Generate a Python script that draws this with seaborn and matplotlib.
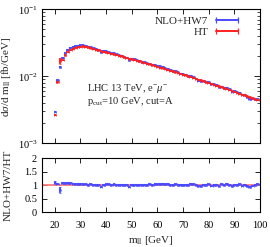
import numpy as np
import pandas as pd
import seaborn as sns
import matplotlib
matplotlib.use("Agg")
import matplotlib.pyplot as plt
from matplotlib.lines import Line2D
from matplotlib.ticker import LogLocator, NullFormatter, FixedLocator, FixedFormatter

# ---------------- data ----------------
mll = list(range(20, 100))  # bin centres [GeV]

ht = [0.00268, 0.0082, 0.0168, 0.0176, 0.0205, 0.0230, 0.0247, 0.0258, 0.0267, 0.0274,
      0.0278, 0.0280, 0.0276, 0.0270, 0.0263, 0.0256, 0.02503, 0.02447, 0.02391, 0.02336,
      0.02283, 0.02230, 0.02178, 0.02127, 0.02077, 0.02027, 0.01979, 0.01931, 0.01885, 0.01839,
      0.01794, 0.01749, 0.01706, 0.01664, 0.01622, 0.01581, 0.01541, 0.01502, 0.01463, 0.01425,
      0.01388, 0.01352, 0.01316, 0.01282, 0.01248, 0.01214, 0.01182, 0.01150, 0.01118, 0.01088,
      0.01058, 0.01029, 0.01000, 0.00972, 0.00945, 0.00918, 0.00892, 0.00867, 0.00842, 0.00818,
      0.00794, 0.00771, 0.00748, 0.00726, 0.00705, 0.00684, 0.00664, 0.00644, 0.00624, 0.00605,
      0.00587, 0.00569, 0.00551, 0.00534, 0.00518, 0.00502, 0.00486, 0.00471, 0.00456, 0.00441]

ratio = [1.10, 1.06, 0.82, 1.08, 1.07, 1.08, 1.07, 1.06, 1.05, 1.05,
         1.04, 1.03, 1.03, 1.02, 1.03, 1.02, 1.02, 1.01, 0.95, 1.02,
         1.03, 1.03, 1.02, 1.03, 1.02, 1.01, 1.02, 1.01, 1.00, 0.95,
         1.01, 1.02, 1.02, 1.01, 1.00, 1.02, 1.01, 1.03, 1.02, 1.04,
         1.03, 1.04, 1.05, 1.03, 1.04, 1.02, 1.01, 1.03, 1.02, 1.00,
         1.01, 1.02, 1.01, 1.04, 1.03, 1.00, 0.97, 0.98, 1.01, 1.02,
         1.03, 0.99, 1.01, 1.02, 0.98, 1.03, 1.00, 1.04, 1.02, 0.98,
         1.02, 1.01, 1.03, 0.99, 1.00, 0.97, 0.94, 0.99, 1.00, 1.03]

ht_rel_err = 0.012
nlo_rel_err = 0.02
ratio_err_default = 0.03
ht_rel_err_special = {22: 0.10, 21: 0.04}
ratio_err_special = {20: 0.04, 22: 0.12, 96: 0.05}

legend_labels = ["NLO+HW7", "HT"]
xticks = [20, 30, 40, 50, 60, 70, 80, 90, 100]
ratio_ticks = [0, 0.5, 1, 1.5, 2]
ratio_ticklabels = ["0", "0.5", "1", "1.5", "2"]

# ---------------- derived table ----------------
df = pd.DataFrame({"mll": mll, "ht": ht, "ratio": ratio})
df["nlo"] = df["ht"] * df["ratio"]
df["ht_err"] = [h * ht_rel_err_special.get(m, ht_rel_err) for m, h in zip(mll, ht)]
df["nlo_err"] = df["nlo"] * nlo_rel_err
df["ratio_err"] = [ratio_err_special.get(m, ratio_err_default) for m in mll]

# ---------------- style ----------------
sns.set_style("ticks")
plt.rcParams.update({
    "font.family": ["Liberation Serif", "DejaVu Serif"],
    "mathtext.fontset": "custom",
    "mathtext.rm": "Liberation Serif",
    "mathtext.it": "Liberation Serif:italic",
    "mathtext.bf": "Liberation Serif:bold",
    "axes.edgecolor": "black",
    "axes.linewidth": 0.8,
    "xtick.direction": "in",
    "ytick.direction": "in",
    "xtick.color": "black",
    "ytick.color": "black",
})

BLUE = "#4a4aff"
RED = "#ff2020"
RLINE = "#ff7070"
FS_TICK = 7.5
FS_LAB = 8
FS_TXT = 7.6

fig = plt.figure(figsize=(2.70, 2.47), dpi=100)
ax1 = fig.add_axes([0.1556, 0.4198, 0.8074, 0.5425])
ax2 = fig.add_axes([0.1556, 0.1397, 0.8074, 0.2206])

eb_kw = dict(fmt="none", elinewidth=1.5, capsize=1.0, capthick=0.6, alpha=0.9)

# top panel
ax1.errorbar(df["mll"], df["nlo"], xerr=0.5, yerr=df["nlo_err"], ecolor=BLUE, **eb_kw)
ax1.errorbar(df["mll"], df["ht"], xerr=0.5, yerr=df["ht_err"], ecolor=RED, **eb_kw)
ax1.set_yscale("log")
ax1.set_xlim(15, 100)
ax1.set_ylim(1e-3, 1e-1)
ax1.xaxis.set_major_locator(FixedLocator(xticks))
ax1.tick_params(axis="x", which="both", top=True, bottom=True, labelbottom=False,
                length=3.5, width=0.6)
ax1.yaxis.set_major_locator(LogLocator(base=10, numticks=10))
ax1.yaxis.set_minor_locator(LogLocator(base=10, subs=np.arange(2, 10), numticks=10))
ax1.yaxis.set_minor_formatter(NullFormatter())
ax1.tick_params(axis="y", which="major", left=True, right=True, length=4, width=0.6,
                labelsize=FS_TICK, pad=3)
ax1.tick_params(axis="y", which="minor", left=True, right=True, length=2, width=0.5)
ax1.set_ylabel(r"d$\sigma$/d m$_{\rm ll}$ [fb/GeV]", fontsize=FS_LAB)
ax1.yaxis.set_label_coords(-0.135, 0.5)

handles = [Line2D([0, 1], [0, 0], color=BLUE, lw=1.4, marker="|", markersize=5, markeredgewidth=0.9),
           Line2D([0, 1], [0, 0], color=RED, lw=1.4, marker="|", markersize=5, markeredgewidth=0.9)]
ax1.legend(handles, legend_labels, loc="upper right", bbox_to_anchor=(0.945, 1.0),
           frameon=False, fontsize=FS_LAB, numpoints=2, markerfirst=False,
           handlelength=2.6, handletextpad=0.4, labelspacing=0.15, borderaxespad=0.2)

ax1.text(0.208, 0.41, r"LHC 13 TeV, e$^{-}\mu^{-}$", transform=ax1.transAxes,
         fontsize=FS_TXT, va="center", ha="left")
ax1.text(0.208, 0.315, r"p$_{\rm cut}$=10 GeV, cut=A", transform=ax1.transAxes,
         fontsize=FS_TXT, va="center", ha="left")

# ratio panel
ax2.axhline(1.0, color=RLINE, lw=1.2, zorder=1)
ax2.errorbar(df["mll"], df["ratio"], xerr=0.5, yerr=df["ratio_err"], ecolor=BLUE,
             zorder=2, **eb_kw)
ax2.set_xlim(15, 100)
ax2.set_ylim(0, 2)
ax2.xaxis.set_major_locator(FixedLocator(xticks))
ax2.yaxis.set_major_locator(FixedLocator(ratio_ticks))
ax2.yaxis.set_major_formatter(FixedFormatter(ratio_ticklabels))
ax2.tick_params(axis="both", which="major", top=True, bottom=True, left=True, right=True,
                length=3.5, width=0.6, labelsize=FS_TICK)
ax2.tick_params(axis="x", pad=6)
ax2.set_ylabel("NLO+HW7/HT", fontsize=FS_LAB)
ax2.yaxis.set_label_coords(-0.135, 0.5)
ax2.set_xlabel(r"m$_{\rm ll}$ [GeV]", fontsize=FS_LAB, labelpad=3)

for ax in (ax1, ax2):
    for s in ax.spines.values():
        s.set_visible(True)
        s.set_color("black")
        s.set_linewidth(0.8)

fig.savefig("out.png", dpi=100)
